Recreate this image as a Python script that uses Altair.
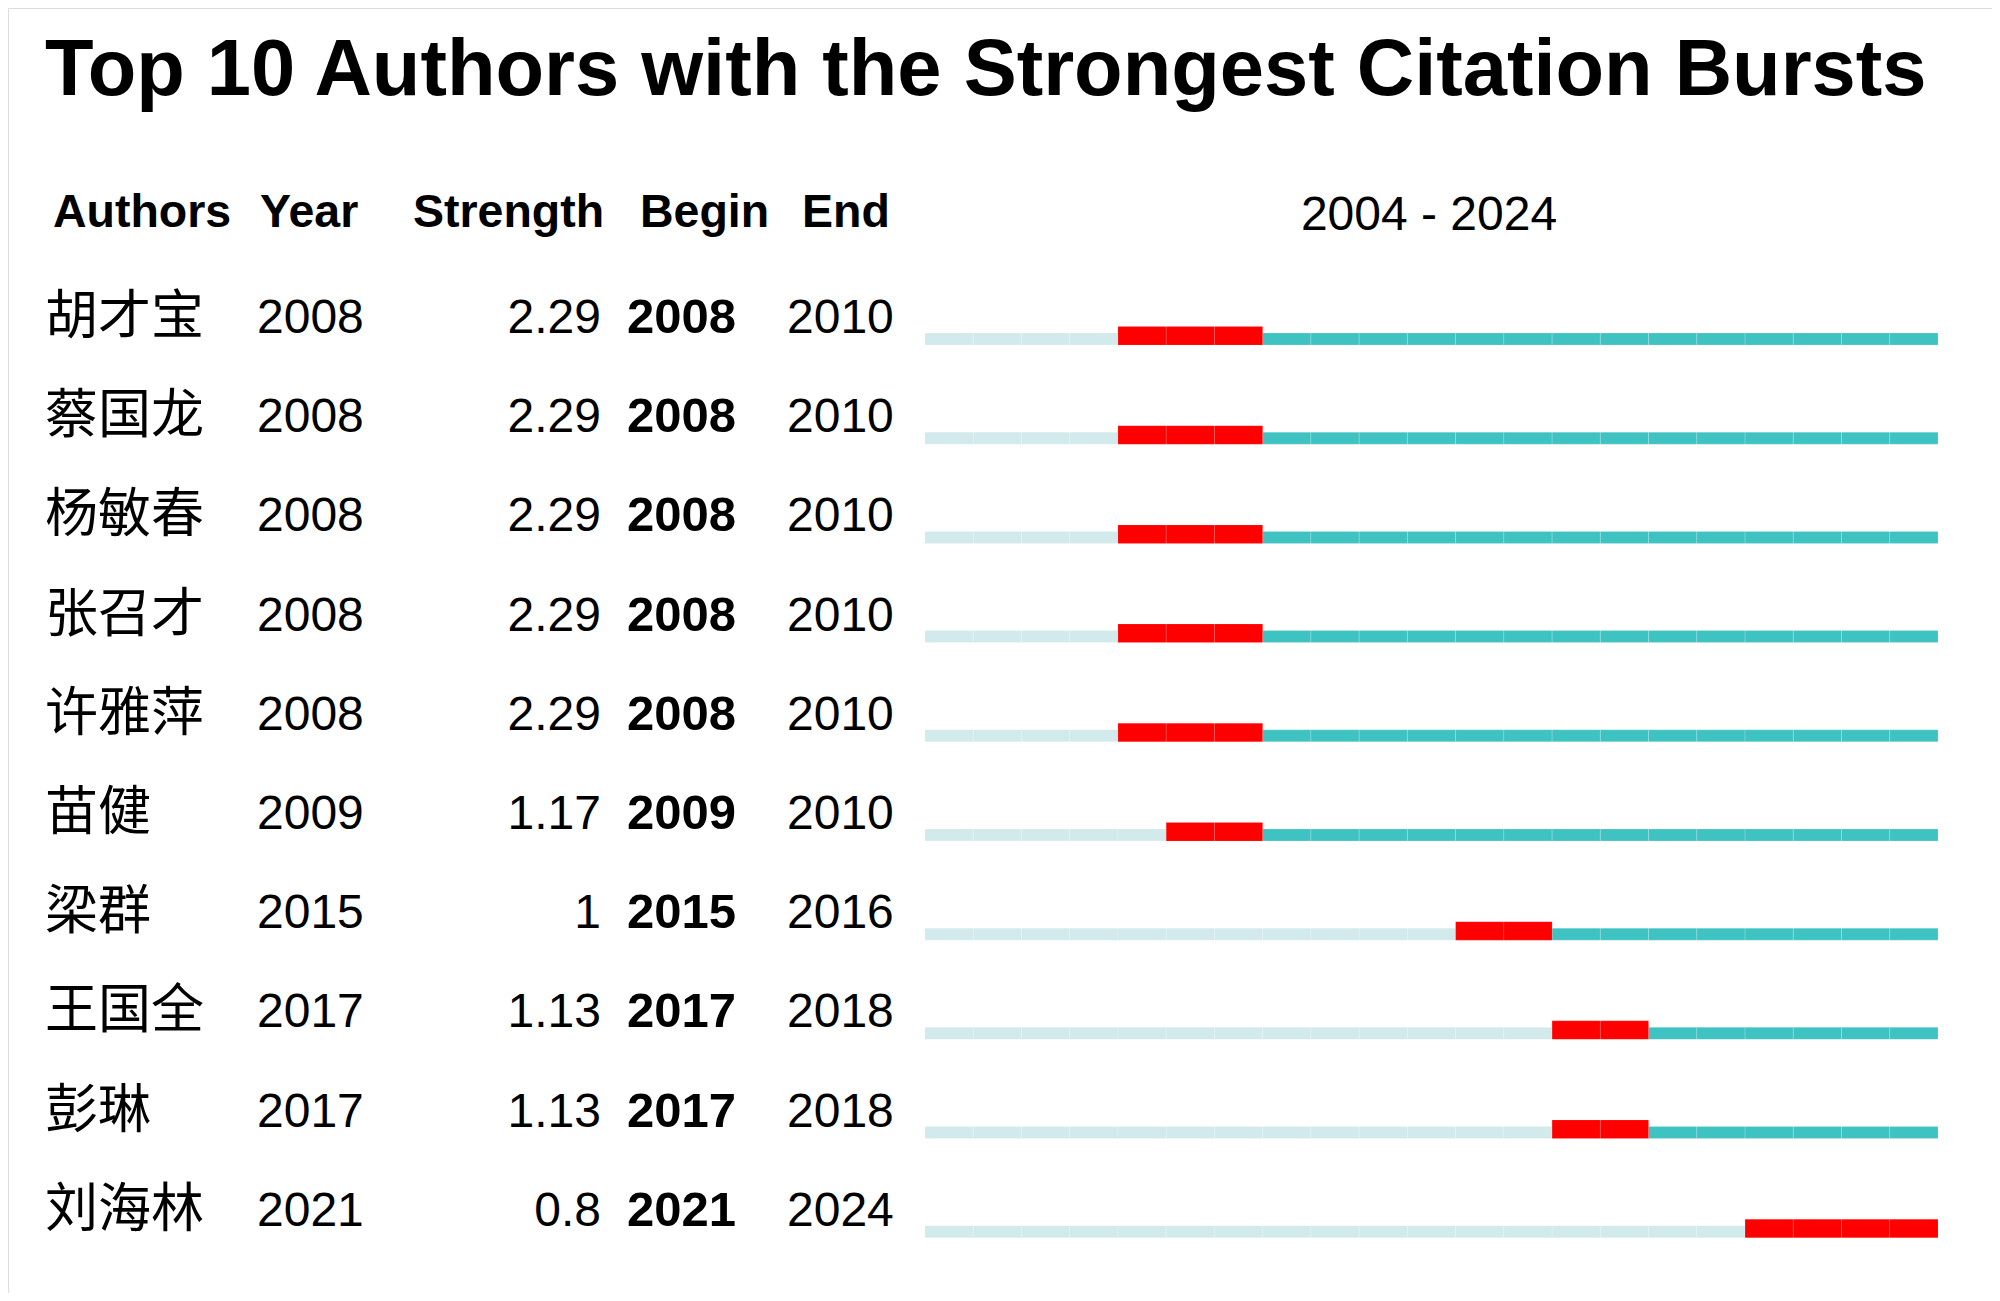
import altair as alt
import pandas as pd

# ---- data ----
title_text = "Top 10 Authors with the Strongest Citation Bursts"
headers = ["Authors", "Year", "Strength", "Begin", "End"]
timeline_label = "2004 - 2024"
timeline_start = 2004
timeline_end = 2024

authors = ["胡才宝", "蔡国龙", "杨敏春", "张召才", "许雅萍", "苗健", "梁群", "王国全", "彭琳", "刘海林"]
years = [2008, 2008, 2008, 2008, 2008, 2009, 2015, 2017, 2017, 2021]
strengths = [2.29, 2.29, 2.29, 2.29, 2.29, 1.17, 1.0, 1.13, 1.13, 0.8]
begins = [2008, 2008, 2008, 2008, 2008, 2009, 2015, 2017, 2017, 2021]
ends = [2010, 2010, 2010, 2010, 2010, 2010, 2016, 2018, 2018, 2024]

# ---- tables ----
rows = pd.DataFrame({
    "idx": list(range(len(authors))),
    "author": authors,
    "year": [str(y) for y in years],
    "strength": [f"{s:g}" for s in strengths],
    "begin": [str(b) for b in begins],
    "end": [str(e) for e in ends],
})

cells = []
for i, (y0, b, e) in enumerate(zip(years, begins, ends)):
    for yr in range(timeline_start, timeline_end + 1):
        if b <= yr <= e:
            state = "burst"
        elif yr < y0:
            state = "before"
        else:
            state = "after"
        cells.append({"idx": i, "yr": yr, "yr_end": yr + 1, "state": state})
cells = pd.DataFrame(cells)

FONT = "Liberation Sans, Arial, sans-serif"
CJK = "Noto Sans CJK SC, sans-serif"

yscale = alt.Scale(domain=[0, 9], range=[320, 320 + 9 * 100.3])
Y = alt.Y("idx:Q", scale=yscale, axis=None)
xscale = alt.Scale(domain=[timeline_start, timeline_end + 1], range=[917, 1930])

title = alt.Chart(pd.DataFrame({"t": [title_text]})).mark_text(
    font=FONT, fontSize=79.5, fontWeight="bold", align="left", baseline="alphabetic", color="#000000"
).encode(x=alt.value(37), y=alt.value(87), text="t:N")

header_layers = []
for lab, xpos in zip(headers, [45, 252, 405, 632, 794]):
    header_layers.append(
        alt.Chart(pd.DataFrame({"t": [lab]})).mark_text(
            font=FONT, fontSize=46.5, fontWeight="bold", align="left", baseline="alphabetic", color="#000000"
        ).encode(x=alt.value(xpos), y=alt.value(219), text="t:N")
    )

timeline_hdr = alt.Chart(pd.DataFrame({"t": [timeline_label]})).mark_text(
    font=FONT, fontSize=48, align="center", baseline="alphabetic", color="#000000"
).encode(x=alt.value(1421), y=alt.value(222), text="t:N")

base = alt.Chart(rows)
name_txt = base.mark_text(font=CJK, fontSize=53, align="left", baseline="alphabetic", dy=1, color="#000000").encode(
    x=alt.value(37), y=Y, text="author:N")
year_txt = base.mark_text(font=FONT, fontSize=48, align="left", baseline="alphabetic", color="#000000").encode(
    x=alt.value(249), y=Y, text="year:N")
str_txt = base.mark_text(font=FONT, fontSize=48, align="right", baseline="alphabetic", color="#000000").encode(
    x=alt.value(593), y=Y, text="strength:N")
beg_txt = base.mark_text(font=FONT, fontSize=49, fontWeight="bold", align="left", baseline="alphabetic", color="#000000").encode(
    x=alt.value(619), y=Y, text="begin:N")
end_txt = base.mark_text(font=FONT, fontSize=48, align="left", baseline="alphabetic", color="#000000").encode(
    x=alt.value(779), y=Y, text="end:N")

cell_base = alt.Chart(cells)
thin = cell_base.transform_filter(alt.datum.state != "burst").mark_bar(
    yOffset=6, stroke="#ffffff", strokeOpacity=0.18, strokeWidth=1
).encode(
    x=alt.X("yr:Q", scale=xscale, axis=None),
    x2="yr_end:Q",
    y=Y,
    size=alt.value(12),
    color=alt.Color("state:N", scale=alt.Scale(domain=["before", "after"], range=["#d2eaeb", "#3fc2c2"]), legend=None),
)
burst = cell_base.transform_filter(alt.datum.state == "burst").mark_bar(
    yOffset=2.8, color="#ff0000", stroke="#ffffff", strokeOpacity=0.1, strokeWidth=1
).encode(
    x=alt.X("yr:Q", scale=xscale, axis=None),
    x2="yr_end:Q",
    y=Y,
    size=alt.value(18.5),
)

chart = alt.layer(
    title, *header_layers, timeline_hdr, name_txt, year_txt, str_txt, beg_txt, end_txt, thin, burst
).properties(
    width=1984, height=1285, autosize="none", padding=0
).configure_view(stroke=None).configure(background="#ffffff")

chart.save("out.html", embed_options={"renderer": "svg", "actions": False})
